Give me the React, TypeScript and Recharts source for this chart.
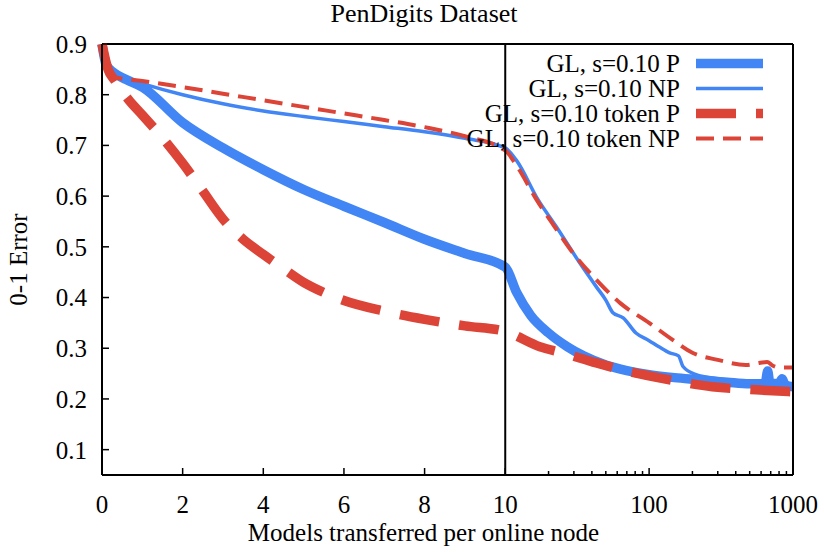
import React from "react";
import { LineChart, Line, XAxis, YAxis, ReferenceLine } from "recharts";

// x axis: linear 0..10, then log 10..1000
const xMajor = [0, 2, 4, 6, 8, 10, 100, 1000];
const xMinor = [20, 30, 40, 50, 60, 70, 80, 90, 200, 300, 400, 500, 600, 700, 800, 900];
const yTicks = [0.1, 0.2, 0.3, 0.4, 0.5, 0.6, 0.7, 0.8, 0.9];

// GL, s=0.10 P
const pX = [0, 0.1, 0.3, 0.6, 1, 2, 3, 4, 5, 6, 7, 8, 9, 10, 12, 15, 20, 27, 35, 50, 70, 100, 150, 220, 350, 500, 640, 667, 690, 800, 840, 880, 1000];
const pY = [0.9, 0.86, 0.843, 0.83, 0.815, 0.745, 0.695, 0.652, 0.613, 0.58, 0.548, 0.515, 0.487, 0.46, 0.41, 0.365, 0.33, 0.303, 0.285, 0.267, 0.256, 0.248, 0.242, 0.238, 0.233, 0.23, 0.23, 0.255, 0.231, 0.23, 0.24, 0.228, 0.224];

// GL, s=0.10 NP
const npX = [0, 0.1, 0.3, 0.6, 1, 2, 3, 4, 5, 6, 7, 8, 9, 10, 12, 16.9, 22.6, 33, 43, 50, 56, 66, 81, 100, 117, 139, 160, 172, 212, 300, 450, 600, 667, 700, 800, 900, 1000];
const npY = [0.9, 0.86, 0.84, 0.832, 0.822, 0.8, 0.782, 0.768, 0.757, 0.747, 0.737, 0.727, 0.714, 0.695, 0.67, 0.593, 0.54, 0.468, 0.421, 0.395, 0.37, 0.36, 0.33, 0.315, 0.303, 0.291, 0.285, 0.264, 0.248, 0.24, 0.235, 0.233, 0.25, 0.232, 0.23, 0.228, 0.225];

// GL, s=0.10 token P
const tpX = [0, 0.15, 0.3, 0.66, 1, 1.5, 2, 2.5, 3, 3.5, 4, 4.5, 5, 5.5, 6, 7, 8, 9, 10, 17.4, 25, 43, 70, 106, 163, 275, 555, 1000];
const tpY = [0.9, 0.85, 0.83, 0.79, 0.76, 0.715, 0.665, 0.61, 0.555, 0.515, 0.485, 0.457, 0.43, 0.41, 0.394, 0.373, 0.357, 0.344, 0.333, 0.303, 0.291, 0.271, 0.255, 0.244, 0.234, 0.224, 0.218, 0.214];

// GL, s=0.10 token NP
const tnpX = [0, 0.1, 0.3, 1, 2, 3, 4, 5, 6, 7, 8, 9, 10, 12, 16.5, 22, 29.5, 43, 63, 100, 145, 200, 300, 470, 560, 660, 720, 800, 1000];
const tnpY = [0.9, 0.855, 0.835, 0.827, 0.815, 0.802, 0.789, 0.776, 0.763, 0.75, 0.736, 0.718, 0.69, 0.66, 0.593, 0.54, 0.488, 0.435, 0.389, 0.35, 0.317, 0.291, 0.277, 0.267, 0.27, 0.273, 0.266, 0.262, 0.262];

const BLUE = "#4285f4";
const RED = "#db4437";
const FONT = "'Liberation Serif', 'Times New Roman', serif";
const FS = 25;

const DECADE = 3.568; // width of one decade in linear-part units
const toT = (x: number) => (x <= 10 ? x : 10 + Math.log10(x / 10) * DECADE);
const T_MAX = toT(1000);

const build = (xs: number[], ys: number[]) => xs.map((x, i) => ({ t: toT(x), y: ys[i] }));

const series = [
  { name: "GL, s=0.10 P", data: build(pX, pY), color: BLUE, width: 9.5, dash: undefined },
  { name: "GL, s=0.10 NP", data: build(npX, npY), color: BLUE, width: 3.5, dash: undefined },
  { name: "GL, s=0.10 token P", data: build(tpX, tpY), color: RED, width: 9.5, dash: "40 20" },
  { name: "GL, s=0.10 token NP", data: build(tnpX, tnpY), color: RED, width: 4, dash: "18 9" },
];

const xTicks = [...xMajor, ...xMinor].map(toT);
const TICK_GAP = 20;

function XTick(props: any) {
  const { x, y, payload } = props;
  const major = xMajor.find((m) => Math.abs(toT(m) - payload.value) < 1e-6);
  const axisY = y - TICK_GAP;
  const len = major !== undefined ? 7 : 4;
  return (
    <g>
      <line x1={x} x2={x} y1={axisY} y2={axisY - len} stroke="#000" strokeWidth={1.5} />
      {major !== undefined && (
        <text x={x} y={y} dy="0.71em" textAnchor="middle" fontSize={FS} fontFamily={FONT} fill="#000">
          {major}
        </text>
      )}
    </g>
  );
}

function LegendBox() {
  return (
    <div style={{ position: "absolute", left: 0, top: 51, width: 770, fontFamily: FONT, fontSize: FS }}>
      {series.map((s) => (
        <div key={s.name} style={{ display: "flex", height: 25, alignItems: "center" }}>
          <div style={{ width: 680, textAlign: "right", whiteSpace: "nowrap", lineHeight: "25px" }}>{s.name}</div>
          <svg width={67} height={25} style={{ marginLeft: 16 }}>
            <line x1={0} x2={67} y1={12.5} y2={12.5} stroke={s.color} strokeWidth={s.width} strokeDasharray={s.dash} />
          </svg>
        </div>
      ))}
    </div>
  );
}

export default function App() {
  return (
    <div style={{ position: "absolute", left: 0, top: 0, width: 824, height: 552, background: "#fff", fontFamily: FONT }}>
      <div style={{ position: "absolute", left: 0, top: 0, width: 848, textAlign: "center", fontSize: 26, lineHeight: "28px" }}>
        PenDigits Dataset
      </div>
      <LineChart width={824} height={552} margin={{ top: 44, right: 0, bottom: 0, left: 0 }}>
        <XAxis
          dataKey="t"
          type="number"
          domain={[0, T_MAX]}
          ticks={xTicks}
          interval={0}
          height={77}
          tickSize={0}
          tickMargin={TICK_GAP}
          tickLine={false}
          tick={(p: any) => <XTick {...p} />}
          axisLine={{ stroke: "#000", strokeWidth: 2 }}
          label={{ value: "Models transferred per online node", position: "insideBottom", offset: 11, dx: -24, fill: "#000", fontSize: FS, fontFamily: FONT }}
        />
        <YAxis
          type="number"
          domain={[0.05, 0.9]}
          ticks={yTicks}
          width={102}
          tickSize={-7}
          tickMargin={22}
          tickFormatter={(v: number) => v.toFixed(1)}
          tick={{ fill: "#000", fontSize: FS, fontFamily: FONT }}
          tickLine={{ stroke: "#000", strokeWidth: 1.5 }}
          axisLine={{ stroke: "#000", strokeWidth: 2 }}
          label={{ value: "0-1 Error", angle: -90, position: "insideLeft", offset: 18, fill: "#000", fontSize: FS, fontFamily: FONT, style: { textAnchor: "middle" } }}
        />
        <YAxis
          yAxisId="r"
          orientation="right"
          type="number"
          domain={[0.05, 0.9]}
          ticks={yTicks}
          width={31}
          tickSize={-7}
          tick={false}
          tickLine={{ stroke: "#000", strokeWidth: 1.5 }}
          axisLine={{ stroke: "#000", strokeWidth: 2 }}
        />
        <ReferenceLine y={0.9} stroke="#000" strokeWidth={2} />
        {series.map((s) => (
          <Line
            key={s.name}
            data={s.data}
            dataKey="y"
            name={s.name}
            type="monotone"
            stroke={s.color}
            strokeWidth={s.width}
            strokeDasharray={s.dash}
            strokeLinejoin="round"
            dot={false}
            activeDot={false}
            isAnimationActive={false}
          />
        ))}
        <ReferenceLine x={10} stroke="#000" strokeWidth={2} />
      </LineChart>
      <LegendBox />
    </div>
  );
}
